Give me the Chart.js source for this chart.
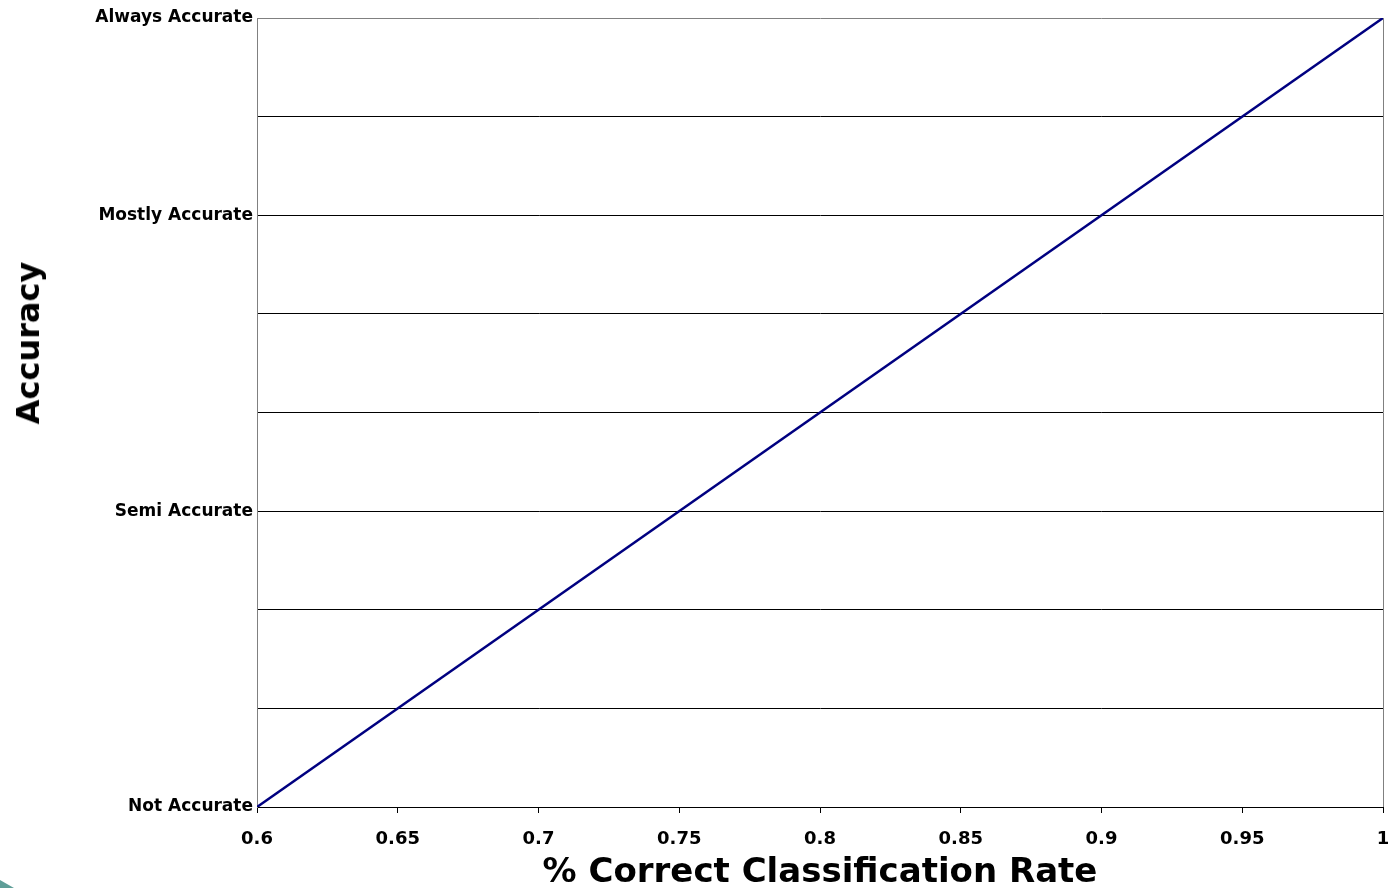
<!DOCTYPE html>
<html>
<head>
<meta charset="utf-8">
<script src="https://cdn.jsdelivr.net/npm/chart.js@4/dist/chart.umd.min.js"></script>
<style>
  html, body { margin: 0; padding: 0; background: #fff; }
  #wrap { position: relative; width: 1388px; height: 888px; }
  #deco { position: absolute; left: 0; top: 880px; width: 14px; height: 8px; background: #5f9e98; clip-path: polygon(0 0, 100% 100%, 0 100%); }
  #ytitle { position: absolute; left: 28px; top: 343px; transform: translate(-50%, -50%) rotate(-90deg);
            font-family: 'DejaVu Sans'; font-weight: bold; font-size: 32px; color: #000; white-space: nowrap; line-height: 1; }
</style>
</head>
<body>
<div id="wrap">
  <canvas id="c" width="1388" height="888"></canvas>
  <div id="ytitle"></div>
  <div id="deco"></div>
</div>
<script>
// Data
const xValues = [0.6, 1.0];
const yValues = [0, 8];
const yTickLabels = { 0: 'Not Accurate', 3: 'Semi Accurate', 6: 'Mostly Accurate', 8: 'Always Accurate' };
const xAxisTitle = '% Correct Classification Rate';
const yAxisTitle = 'Accuracy';

document.getElementById('ytitle').textContent = yAxisTitle;

const points = xValues.map((x, i) => ({ x: x, y: yValues[i] }));

const frame = {
  id: 'frame',
  afterDatasetsDraw(chart) {
    const { ctx, chartArea: a } = chart;
    ctx.save();
    ctx.strokeStyle = '#808080';
    ctx.lineWidth = 1;
    ctx.beginPath();
    ctx.moveTo(Math.round(a.right) + 0.5, a.top);
    ctx.lineTo(Math.round(a.right) + 0.5, a.bottom);
    ctx.stroke();
    ctx.restore();
  }
};

new Chart(document.getElementById('c'), {
  type: 'scatter',
  data: {
    datasets: [{
      data: points,
      showLine: true,
      borderColor: '#000080',
      borderWidth: 2.5,
      pointRadius: 0,
      fill: false
    }]
  },
  options: {
    responsive: false,
    animation: false,
    devicePixelRatio: 1,
    layout: { padding: { top: 18, right: 5, left: 0, bottom: 0 } },
    plugins: { legend: { display: false }, tooltip: { enabled: false } },
    scales: {
      x: {
        type: 'linear',
        min: 0.6, max: 1.0,
        ticks: {
          stepSize: 0.05,
          color: '#000',
          font: { family: 'DejaVu Sans', size: 18, weight: 'bold' },
          padding: 16,
          maxRotation: 0,
          callback: v => String(Number(v.toFixed(2)))
        },
        grid: { drawOnChartArea: false, drawTicks: true, tickLength: 6, color: '#000' },
        border: { color: '#000', width: 1 },
        title: {
          display: true, text: xAxisTitle, color: '#000',
          font: { family: 'DejaVu Sans', size: 34, weight: 'bold', lineHeight: 0.88 },
          padding: { top: 0, bottom: 0 }
        },
        afterFit: s => { s.height = 81; s.paddingLeft = 0; s.paddingRight = 0; }
      },
      y: {
        type: 'linear',
        min: 0, max: 8,
        ticks: {
          stepSize: 1,
          color: '#000',
          font: { family: 'DejaVu Sans', size: 17, weight: 'bold' },
          padding: 4,
          autoSkip: false,
          callback: v => yTickLabels[v] || ''
        },
        grid: {
          drawTicks: false,
          color: ctx => (ctx.tick && ctx.tick.value === 8) ? '#808080' : '#000',
          lineWidth: 1
        },
        border: { color: '#808080', width: 1 },
        title: { display: false },
        afterFit: s => { s.width = 257; s.paddingTop = 0; s.paddingBottom = 0; }
      }
    }
  },
  plugins: [frame]
});
</script>
</body>
</html>
